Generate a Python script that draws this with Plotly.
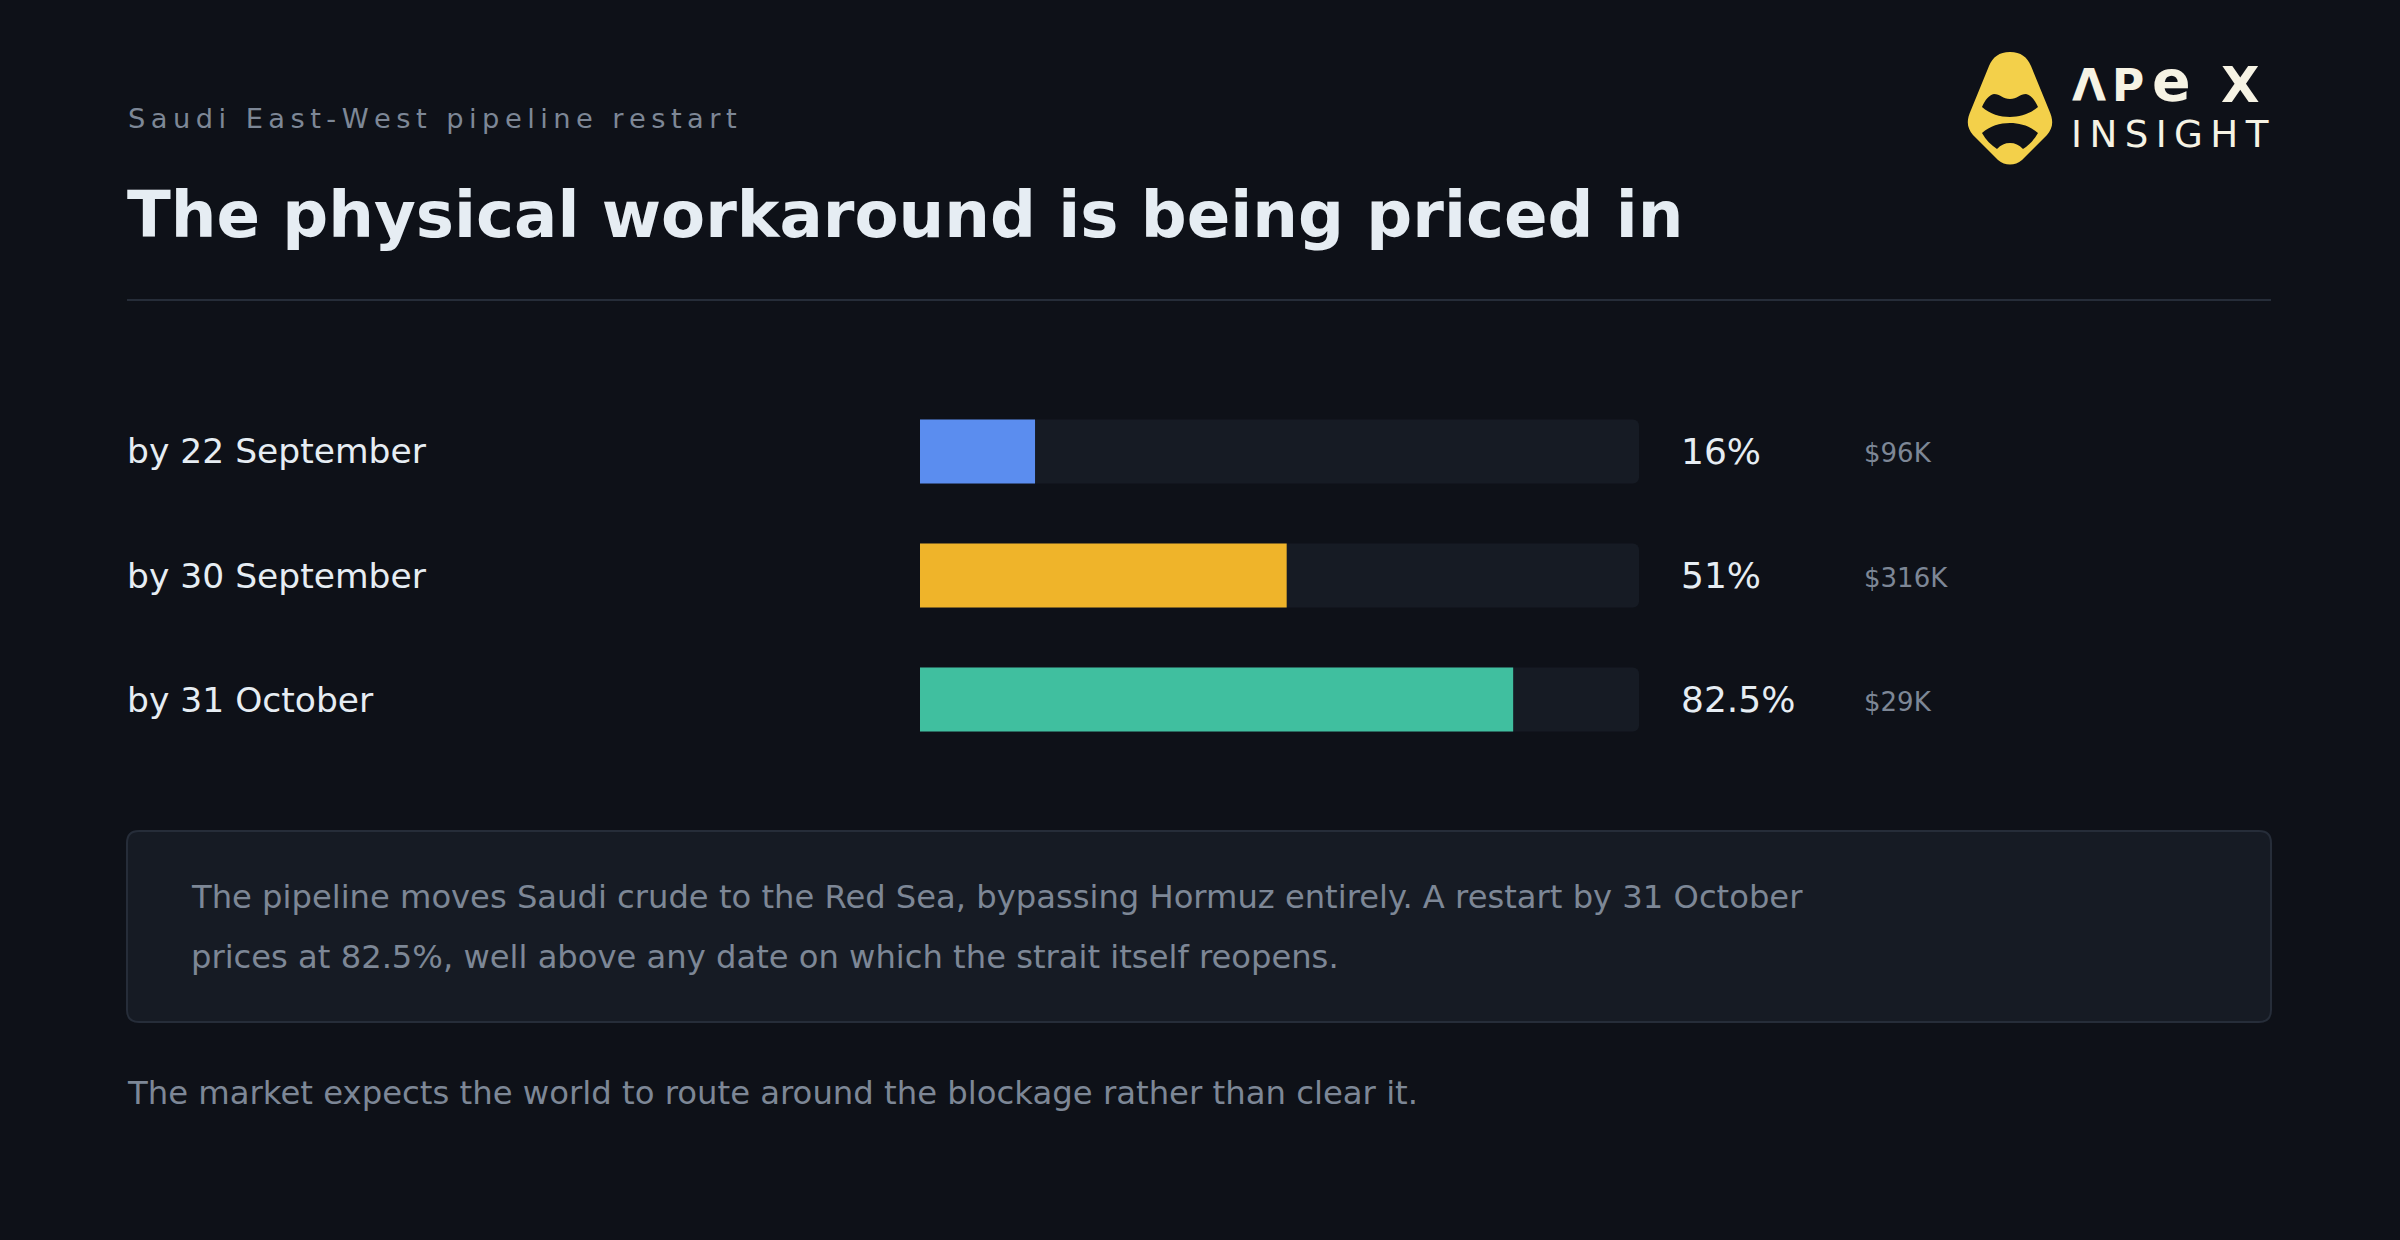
import plotly.graph_objects as go

W, H = 2400, 1240
BG = "#0e1118"
TRACK = "#161b24"
CARD = "#161b24"
BORDER = "#262d39"
WHITE = "#e6edf3"
GRAY = "#7d8796"
FONT = "DejaVu Sans"

# ---- data ----
categories = ["by 22 September", "by 30 September", "by 31 October"]
probabilities = [16, 51, 82.5]
volumes = ["$96K", "$316K", "$29K"]
bar_colors = ["#5b8def", "#efb42a", "#40bf9f"]
full_scale = [100, 100, 100]

eyebrow = "Saudi East-West pipeline restart"
title = "The physical workaround is being priced in"
note_lines = [
    "The pipeline moves Saudi crude to the Red Sea, bypassing Hormuz entirely. A restart by 31 October",
    "prices at 82.5%, well above any date on which the strait itself reopens.",
]
footer = "The market expects the world to route around the blockage rather than clear it."
logo_letters = ["Λ", "P", "e", "X"]
logo_sub = "INSIGHT"


def px(x):
    return x / W


def py(y):
    return 1 - y / H


def build_path(cmds):
    out = []
    for c in cmds:
        op = c[0]
        nums = c[1:]
        pts = []
        for i in range(0, len(nums), 2):
            pts.append(f"{px(nums[i]):.6f},{py(nums[i+1]):.6f}")
        out.append(op + " " + " ".join(pts))
    return " ".join(out) + " Z"


def rounded_rect(x0, y0, x1, y1, r):
    return build_path([
        ("M", x0 + r, y0), ("L", x1 - r, y0), ("Q", x1, y0, x1, y0 + r),
        ("L", x1, y1 - r), ("Q", x1, y1, x1 - r, y1), ("L", x0 + r, y1),
        ("Q", x0, y1, x0, y1 - r), ("L", x0, y0 + r), ("Q", x0, y0, x0 + r, y0),
    ])


def spaced(s, sep="\u2009"):
    return sep.join(s)


fig = go.Figure()
fig.add_trace(go.Bar(
    y=categories, x=full_scale, orientation="h",
    marker=dict(color=TRACK, cornerradius=6, line=dict(width=0)),
    width=0.518, hoverinfo="skip", showlegend=False,
))
fig.add_trace(go.Bar(
    y=categories, x=probabilities, orientation="h",
    marker=dict(color=bar_colors, cornerradius=6, line=dict(width=0)),
    width=0.518, hoverinfo="skip", showlegend=False,
))

annotations = []
shapes = []

# header
annotations.append(dict(x=px(126), y=py(118), xref="paper", yref="paper",
                        text=spaced(eyebrow), showarrow=False, xanchor="left", yanchor="middle",
                        font=dict(family=FONT, size=27.3, color=GRAY)))
annotations.append(dict(x=px(125), y=py(214), xref="paper", yref="paper",
                        text="<b>" + title + "</b>", showarrow=False, xanchor="left", yanchor="middle",
                        font=dict(family=FONT, size=64.2, color=WHITE)))
shapes.append(dict(type="line", xref="paper", yref="paper", x0=px(127), x1=px(2271),
                   y0=py(300), y1=py(300), line=dict(color=BORDER, width=2)))

# rows
for cat, p, v in zip(categories, probabilities, volumes):
    annotations.append(dict(x=px(125), y=cat, xref="paper", yref="y", text=cat, showarrow=False,
                            xanchor="left", yanchor="middle",
                            font=dict(family=FONT, size=34.5, color=WHITE)))
    annotations.append(dict(x=px(1679), y=cat, xref="paper", yref="y", text=f"{p:g}%", showarrow=False,
                            xanchor="left", yanchor="middle",
                            font=dict(family=FONT, size=36, color=WHITE)))
    annotations.append(dict(x=px(1862), y=cat, xref="paper", yref="y", text=v, showarrow=False,
                            xanchor="left", yanchor="middle", yshift=-2,
                            font=dict(family=FONT, size=26, color=GRAY)))

# note card
shapes.append(dict(type="path", xref="paper", yref="paper", layer="below",
                   path=rounded_rect(127, 831, 2271, 1022, 12),
                   fillcolor=CARD, line=dict(color=BORDER, width=2)))
for i, line in enumerate(note_lines):
    annotations.append(dict(x=px(189), y=py(897 + 60 * i), xref="paper", yref="paper", text=line,
                            showarrow=False, xanchor="left", yanchor="middle",
                            font=dict(family=FONT, size=32.2, color=GRAY)))

annotations.append(dict(x=px(125), y=py(1093), xref="paper", yref="paper", text=footer,
                        showarrow=False, xanchor="left", yanchor="middle",
                        font=dict(family=FONT, size=32.3, color=GRAY)))

# logo mark
YEL = "#f3d04a"
shapes.append(dict(type="path", xref="paper", yref="paper", fillcolor=YEL, line=dict(width=0),
                   path=build_path([
                       ("M", 2010, 52), ("C", 2021, 52, 2027, 57, 2031, 66),
                       ("L", 2049, 110), ("C", 2054, 121, 2053, 128, 2047, 135),
                       ("L", 2022, 160), ("C", 2015, 166, 2005, 166, 1998, 160),
                       ("L", 1973, 135), ("C", 1967, 128, 1966, 121, 1971, 110),
                       ("L", 1989, 66), ("C", 1993, 57, 1999, 52, 2010, 52),
                   ])))
shapes.append(dict(type="path", xref="paper", yref="paper", fillcolor=BG, line=dict(width=0),
                   path=build_path([
                       ("M", 1982, 107), ("C", 1985, 100, 1989, 95, 1994, 94),
                       ("C", 2000, 94, 2003, 99, 2010, 99), ("C", 2017, 99, 2020, 94, 2026, 94),
                       ("C", 2031, 95, 2035, 100, 2038, 107),
                       ("C", 2030, 114, 2020, 117, 2010, 117), ("C", 2000, 117, 1990, 114, 1982, 107),
                   ])))
shapes.append(dict(type="path", xref="paper", yref="paper", fillcolor=BG, line=dict(width=0),
                   path=build_path([
                       ("M", 1982, 133), ("C", 1990, 126, 2000, 123, 2010, 123),
                       ("C", 2020, 123, 2030, 126, 2038, 133), ("C", 2034, 140, 2029, 145, 2023, 149),
                       ("C", 2019, 145, 2015, 143, 2010, 143), ("C", 2005, 143, 2001, 145, 1997, 149),
                       ("C", 1991, 145, 1986, 140, 1982, 133),
                   ])))

LOGO_TXT = "#f6f3e4"
logo_x = [2089, 2128, 2171, 2240]
logo_sizes = [44, 44, 57, 50]
logo_dy = [0, 0, -4, 0]
for ch, lx, sz, dy in zip(logo_letters, logo_x, logo_sizes, logo_dy):
    annotations.append(dict(x=px(lx), y=py(85 + dy), xref="paper", yref="paper",
                            text="<b>" + ch + "</b>", showarrow=False, xanchor="center", yanchor="middle",
                            font=dict(family=FONT, size=sz, color=LOGO_TXT)))
annotations.append(dict(x=px(2069), y=py(134), xref="paper", yref="paper", text=spaced(logo_sub),
                        showarrow=False, xanchor="left", yanchor="middle",
                        font=dict(family=FONT, size=37.2, color=LOGO_TXT)))

fig.update_layout(
    width=W, height=H,
    margin=dict(l=0, r=0, t=0, b=0),
    paper_bgcolor=BG, plot_bgcolor=BG,
    barmode="overlay",
    showlegend=False,
    xaxis=dict(domain=[px(920), px(1639)], range=[0, 100], visible=False, fixedrange=True),
    yaxis=dict(domain=[py(761.5), py(389.5)], type="category", categoryorder="array",
               categoryarray=categories, range=[2.5, -0.5], visible=False, fixedrange=True),
    annotations=annotations,
    shapes=shapes,
)

fig.write_html(
    "out.html",
    config={"displayModeBar": False},
    post_script="document.body.style.margin='0';document.body.style.padding='0';"
                "document.body.style.background='" + BG + "';"
                "document.body.style.overflow='hidden';",
)
